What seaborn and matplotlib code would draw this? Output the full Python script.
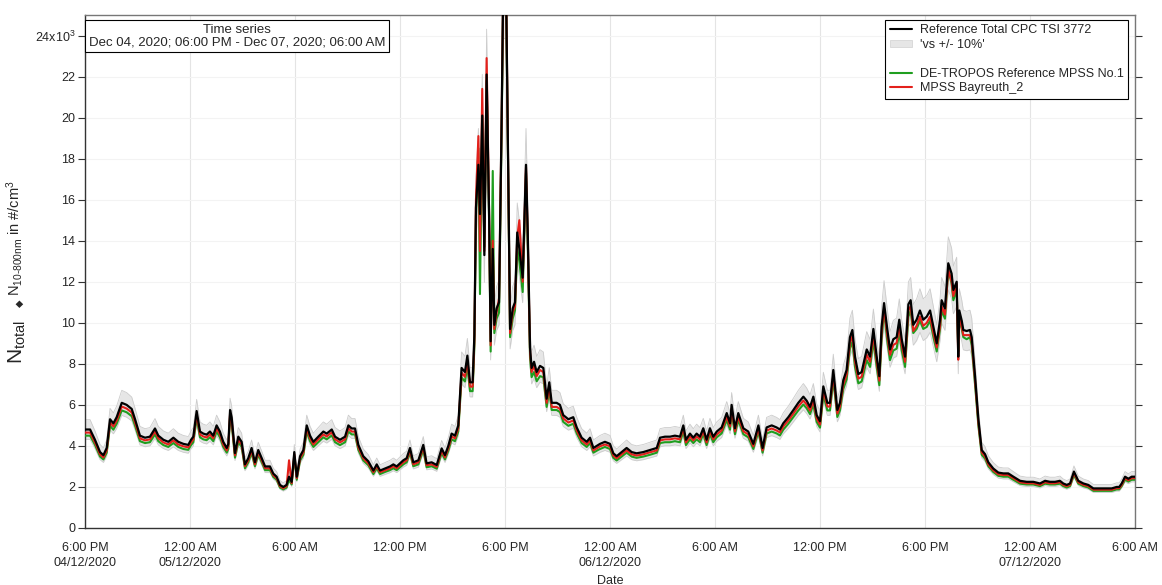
import numpy as np
import pandas as pd
import matplotlib
matplotlib.use("Agg")
import matplotlib.pyplot as plt
from matplotlib.lines import Line2D
from matplotlib.patches import Patch
import seaborn as sns

# ── data: hours after 04/12/2020 18:00, concentrations in 10^3 #/cm3 ──
start = pd.Timestamp("2020-12-04 18:00")
hours = [
    0.00, 0.29, 0.57, 0.86, 1.05, 1.24, 1.43, 1.62, 1.81, 2.10, 2.38, 2.67, 2.86, 3.14, 3.43, 3.71,
    4.00, 4.19, 4.48, 4.76, 5.05, 5.33, 5.62, 5.90, 6.06, 6.19, 6.38, 6.57, 6.76, 6.95, 7.14, 7.33,
    7.52, 7.71, 7.90, 8.10, 8.19, 8.29, 8.38, 8.57, 8.76, 8.95, 9.14, 9.33, 9.52, 9.71, 9.90, 10.10,
    10.29, 10.57, 10.76, 10.95, 11.14, 11.33, 11.52, 11.66, 11.81, 11.96, 12.10, 12.29, 12.48, 12.67,
    12.86, 13.05, 13.33, 13.62, 13.81, 14.10, 14.29, 14.57, 14.86, 15.05, 15.24, 15.43, 15.62, 15.90,
    16.19, 16.48, 16.67, 16.86, 17.14, 17.43, 17.62, 17.81, 18.00, 18.19, 18.38, 18.57, 18.76, 19.05,
    19.33, 19.52, 19.81,
    20.10, 20.38, 20.57, 20.76, 20.95, 21.14, 21.33, 21.52, 21.71, 21.85, 22.00, 22.15, 22.25, 22.34,
    22.48, 22.57, 22.70, 22.82, 22.95, 23.09, 23.18, 23.30, 23.39, 23.52, 23.66, 23.81, 23.90, 24.06,
    24.19, 24.29, 24.44, 24.57, 24.70, 24.82, 25.01, 25.20, 25.30, 25.43, 25.52, 25.66, 25.81, 26.00,
    26.19, 26.38, 26.53, 26.67, 26.95, 27.14, 27.33, 27.62, 27.90, 28.10, 28.38, 28.67, 28.86, 29.05,
    29.33,
    29.43, 29.71, 30.00, 30.19, 30.38, 30.67, 30.95, 31.24, 31.52, 31.90, 32.29, 32.67, 32.86, 33.14,
    33.43, 33.71, 34.00, 34.19, 34.34, 34.57, 34.76, 34.95, 35.14, 35.33, 35.52, 35.71, 35.90, 36.10,
    36.38, 36.67, 36.86, 36.95, 37.14, 37.33, 37.62, 37.90, 38.19, 38.48, 38.72, 38.95, 39.24, 39.52,
    39.71, 39.90, 40.19, 40.48, 40.76, 41.05, 41.24, 41.43, 41.62, 41.81, 42.00, 42.19, 42.42, 42.57,
    42.76, 42.99, 43.14, 43.33, 43.52, 43.71, 43.85, 44.00, 44.19, 44.38, 44.67, 44.86, 45.05, 45.24,
    45.39, 45.52, 45.66, 45.85, 46.00, 46.19, 46.38, 46.53, 46.67, 46.86, 47.05, 47.18, 47.33, 47.52,
    47.71, 47.90, 48.10, 48.29, 48.48, 48.67, 48.86,
    48.95, 49.14, 49.33, 49.52, 49.62, 49.81, 49.90, 49.96, 50.10, 50.19, 50.38, 50.57, 50.67, 50.86,
    51.05, 51.24, 51.43, 51.62, 51.90, 52.19, 52.48, 52.76, 53.05, 53.43, 53.81, 54.19, 54.57, 54.86,
    55.14, 55.43, 55.71, 55.90, 56.10, 56.29, 56.51, 56.76, 57.05, 57.33, 57.62, 58.00, 58.38, 58.67,
    58.95, 59.10, 59.24, 59.43, 59.62, 59.81, 60.00,
]
ref_cpc = [
    4.8, 4.8, 4.3, 3.7, 3.55, 3.9, 5.3, 5.1, 5.4, 6.1, 6.0, 5.8, 5.3, 4.5, 4.4, 4.45,
    4.85, 4.5, 4.3, 4.2, 4.4, 4.2, 4.1, 4.05, 4.3, 4.45, 5.7, 4.7, 4.6, 4.55, 4.7, 4.5,
    5.0, 4.7, 4.2, 3.9, 4.1, 5.75, 5.4, 3.65, 4.45, 4.2, 3.1, 3.4, 3.9, 3.2, 3.8, 3.4,
    3.0, 3.0, 2.65, 2.5, 2.1, 2.0, 2.1, 2.5, 2.25, 3.7, 2.5, 3.5, 3.8, 5.0,
    4.5, 4.2, 4.45, 4.7, 4.6, 4.8, 4.45, 4.3, 4.45, 5.0, 4.85, 4.85, 4.05, 3.5,
    3.25, 2.8, 3.1, 2.8, 2.9, 3.0, 3.1, 3.0, 3.15, 3.3, 3.4, 3.9, 3.2, 3.3,
    4.05, 3.15, 3.2,
    3.07, 3.88, 3.55, 4.0, 4.6, 4.5, 5.0, 7.8, 7.6, 8.4, 7.1, 7.1, 9.4, 15.6,
    17.7, 15.3, 20.1, 13.3, 22.1, 15.3, 9.1, 13.6, 9.9, 10.7, 11.0, 20.1, 26.5, 26.5,
    16.9, 9.7, 10.7, 11.0, 14.4, 13.6, 12.2, 17.7, 14.4, 8.8, 7.8, 8.1, 7.6, 7.9,
    7.8, 6.3, 7.1, 6.1, 6.1, 6.0, 5.5, 5.3, 5.4, 4.9, 4.4, 4.2, 4.4, 3.9,
    4.05,
    4.1, 4.2, 4.1, 3.64, 3.5, 3.7, 3.9, 3.7, 3.64, 3.7, 3.8, 3.9, 4.4, 4.45,
    4.45, 4.5, 4.45, 5.0, 4.3, 4.6, 4.4, 4.6, 4.45, 4.86, 4.3, 4.86, 4.45, 4.7,
    4.9, 5.6, 5.1, 6.0, 4.86, 5.6, 4.86, 4.7, 4.1, 5.0, 3.9, 4.9, 5.0, 4.9,
    4.8, 5.1, 5.4, 5.75, 6.1, 6.4, 6.2, 5.9, 6.4, 5.5, 5.2, 6.9, 6.1, 6.1,
    7.7, 5.75, 6.1, 7.2, 7.7, 9.3, 9.65, 8.35, 7.5, 7.6, 8.7, 8.35, 9.7, 8.35,
    7.4, 9.8, 10.96, 9.65, 8.7, 9.2, 9.3, 10.15, 9.2, 8.35, 10.9, 11.1, 9.9, 10.15,
    10.6, 10.15, 10.3, 10.6, 9.8, 9.0, 10.15,
    11.1, 10.7, 12.9, 12.4, 11.6, 12.0, 8.35, 10.6, 10.1, 9.65, 9.6, 9.65, 9.3, 7.4,
    5.3, 3.8, 3.6, 3.2, 2.9, 2.7, 2.66, 2.66, 2.5, 2.3, 2.25, 2.25, 2.17, 2.3,
    2.25, 2.25, 2.3, 2.17, 2.1, 2.17, 2.75, 2.3, 2.17, 2.1, 1.93, 1.93, 1.93, 1.93,
    2.0, 2.0, 2.17, 2.5, 2.4, 2.5, 2.5,
]
tropos_mpss = [
    4.5, 4.5, 4.05, 3.48, 3.34, 3.67, 4.98, 4.79, 5.08, 5.73, 5.64, 5.45, 4.98, 4.23, 4.14, 4.18,
    4.56, 4.23, 4.04, 3.95, 4.14, 3.95, 3.85, 3.81, 4.04, 4.18, 5.36, 4.42, 4.32, 4.28, 4.42, 4.23,
    4.7, 4.42, 3.95, 3.67, 3.85, 5.41, 5.08, 3.43, 4.18, 3.95, 2.91, 3.2, 3.67, 3.01, 3.57, 3.2,
    2.82, 2.82, 2.49, 2.35, 1.97, 1.88, 1.97, 2.35, 2.12, 3.48, 2.35, 3.29, 3.57, 4.7,
    4.23, 3.95, 4.18, 4.42, 4.32, 4.51, 4.18, 4.04, 4.18, 4.7, 4.56, 4.56, 3.81, 3.29,
    3.06, 2.63, 2.91, 2.63, 2.73, 2.82, 2.91, 2.82, 2.96, 3.1, 3.2, 3.67, 3.01, 3.1,
    3.81, 2.96, 3.01,
    2.89, 3.65, 3.34, 3.76, 4.32, 4.23, 4.7, 7.33, 7.14, 7.9, 6.67, 6.67, 8.84, 15.2,
    18.5, 11.4, 20.1, 13.7, 21.8, 15.0, 8.6, 17.4, 9.5, 10.2, 10.5, 19.5, 26.0, 26.0,
    16.5, 9.3, 10.2, 10.6, 13.6, 13.0, 11.5, 17.3, 13.8, 8.3, 7.35, 7.6, 7.15, 7.4,
    7.35, 5.9, 6.7, 5.75, 5.75, 5.65, 5.17, 4.98, 5.08, 4.61, 4.14, 3.95, 4.14, 3.67,
    3.81,
    3.85, 3.95, 3.85, 3.42, 3.29, 3.48, 3.67, 3.48, 3.42, 3.48, 3.57, 3.67, 4.14, 4.18,
    4.18, 4.23, 4.18, 4.7, 4.04, 4.32, 4.14, 4.32, 4.18, 4.57, 4.04, 4.57, 4.18, 4.42,
    4.61, 5.26, 4.79, 5.64, 4.57, 5.26, 4.57, 4.42, 3.85, 4.7, 3.67, 4.61, 4.7, 4.61,
    4.51, 4.79, 5.08, 5.41, 5.73, 6.02, 5.83, 5.55, 6.02, 5.17, 4.89, 6.49, 5.73, 5.73,
    7.24, 5.41, 5.73, 6.77, 7.24, 8.74, 9.07, 7.85, 7.05, 7.14, 8.18, 7.85, 9.12, 7.85,
    6.96, 9.21, 10.6, 9.07, 8.18, 8.65, 8.74, 9.54, 8.65, 7.85, 10.3, 10.6, 9.5, 9.7,
    10.1, 9.7, 9.8, 10.1, 9.3, 8.6, 9.7,
    10.6, 10.2, 12.6, 11.9, 11.1, 11.6, 8.6, 10.2, 9.7, 9.3, 9.2, 9.3, 8.9, 7.0,
    4.98, 3.57, 3.38, 3.01, 2.73, 2.54, 2.5, 2.5, 2.35, 2.16, 2.12, 2.12, 2.04, 2.16,
    2.12, 2.12, 2.16, 2.04, 1.97, 2.04, 2.59, 2.16, 2.04, 1.97, 1.81, 1.81, 1.81, 1.81,
    1.88, 1.88, 2.04, 2.35, 2.26, 2.35, 2.35,
]
bayreuth_mpss = [
    4.65, 4.65, 4.17, 3.59, 3.44, 3.78, 5.14, 4.95, 5.24, 5.92, 5.82, 5.63, 5.14, 4.37, 4.27, 4.32,
    4.7, 4.37, 4.17, 4.07, 4.27, 4.07, 3.98, 3.93, 4.17, 4.32, 5.53, 4.56, 4.46, 4.41, 4.56, 4.37,
    4.85, 4.56, 4.07, 3.78, 3.98, 5.58, 5.24, 3.54, 4.32, 4.07, 3.01, 3.3, 3.78, 3.1, 3.69, 3.3,
    2.91, 2.91, 2.57, 2.43, 2.04, 1.94, 2.04, 3.3, 2.18, 3.59, 2.43, 3.4, 3.69, 4.85,
    4.37, 4.07, 4.32, 4.56, 4.46, 4.66, 4.32, 4.17, 4.32, 4.85, 4.7, 4.7, 3.93, 3.4,
    3.15, 2.72, 3.01, 2.72, 2.81, 2.91, 3.01, 2.91, 3.06, 3.2, 3.3, 3.78, 3.1, 3.2,
    3.93, 3.06, 3.1,
    2.98, 3.76, 3.44, 3.88, 4.46, 4.37, 4.85, 7.57, 7.37, 8.15, 6.89, 6.89, 9.12, 16.0,
    19.1, 13.5, 21.4, 13.5, 22.9, 15.5, 8.9, 14.0, 9.7, 10.5, 11.2, 20.0, 26.5, 26.5,
    16.8, 9.5, 10.5, 10.8, 14.2, 15.0, 12.0, 17.6, 14.2, 8.6, 7.6, 7.9, 7.4, 7.7,
    7.6, 6.1, 6.9, 5.9, 5.9, 5.8, 5.34, 5.14, 5.24, 4.75, 4.27, 4.07, 4.27, 3.78,
    3.93,
    3.98, 4.07, 3.98, 3.53, 3.4, 3.59, 3.78, 3.59, 3.53, 3.59, 3.69, 3.78, 4.27, 4.32,
    4.32, 4.37, 4.32, 4.85, 4.17, 4.46, 4.27, 4.46, 4.32, 4.71, 4.17, 4.71, 4.32, 4.56,
    4.75, 5.43, 4.95, 5.82, 4.71, 5.43, 4.71, 4.56, 3.98, 4.85, 3.78, 4.75, 4.85, 4.75,
    4.66, 4.95, 5.24, 5.58, 5.92, 6.21, 6.01, 5.72, 6.21, 5.34, 5.04, 6.69, 5.92, 5.92,
    7.47, 5.58, 5.92, 6.98, 7.47, 9.02, 9.36, 8.1, 7.28, 7.37, 8.44, 8.1, 9.41, 8.1,
    7.18, 9.51, 10.7, 9.36, 8.44, 8.92, 9.02, 9.85, 8.92, 8.1, 10.6, 10.8, 9.6, 9.85,
    10.3, 9.85, 10.0, 10.3, 9.5, 8.8, 9.85,
    10.8, 10.4, 12.6, 12.0, 11.3, 11.9, 8.2, 10.3, 9.8, 9.4, 9.4, 9.4, 9.1, 7.2,
    5.14, 3.69, 3.49, 3.1, 2.81, 2.62, 2.58, 2.58, 2.43, 2.23, 2.18, 2.18, 2.1, 2.23,
    2.18, 2.18, 2.23, 2.1, 2.04, 2.1, 2.67, 2.23, 2.1, 2.04, 1.87, 1.87, 1.87, 1.87,
    1.94, 1.94, 2.1, 2.43, 2.33, 2.43, 2.43,
]
band_pct = 10
y_ticks = list(range(0, 25, 2))
y_ticklabels = [str(v) for v in y_ticks[:-1]] + ["24x10$^{3}$"]

sns.set_style("white")
plt.rcParams["font.family"] = ["Liberation Sans", "DejaVu Sans"]
plt.rcParams["mathtext.fontset"] = "custom"
plt.rcParams["mathtext.rm"] = "Liberation Sans"
plt.rcParams["mathtext.it"] = "Liberation Sans:italic"
plt.rcParams["mathtext.fallback"] = "stixsans"

df = pd.DataFrame({
    "time": start + pd.to_timedelta(hours, unit="h"),
    "ref": ref_cpc,
    "tropos": tropos_mpss,
    "bayreuth": bayreuth_mpss,
})
df["lo"] = df["ref"] * (1 - band_pct / 100)
df["hi"] = df["ref"] * (1 + band_pct / 100)

W, H = 1162, 585
fig = plt.figure(figsize=(W / 100, H / 100), dpi=100)
ax = fig.add_axes([85 / W, 1 - 528 / H, 1050 / W, 513 / H])

# ±10 % band around the reference CPC
ax.fill_between(df["time"], df["lo"], df["hi"], color="#e6e6e6", lw=0, zorder=1)
sns.lineplot(data=df, x="time", y="lo", color="#cccccc", lw=0.6, ax=ax, zorder=2)
sns.lineplot(data=df, x="time", y="hi", color="#cccccc", lw=0.6, ax=ax, zorder=2)

c_green, c_red = "#1f9e1f", "#e3201b"
sns.lineplot(data=df, x="time", y="tropos", color=c_green, lw=1.5, ax=ax, zorder=3)
sns.lineplot(data=df, x="time", y="bayreuth", color=c_red, lw=1.5, ax=ax, zorder=4)
sns.lineplot(data=df, x="time", y="ref", color="black", lw=1.6, ax=ax, zorder=5)

# axes
x_ticks = pd.date_range(start, periods=11, freq="6h")
x_labels = []
for i, t in enumerate(x_ticks):
    s = t.strftime("%I:%M %p").lstrip("0")
    if i == 0 or t.hour == 0:
        s += "\n" + t.strftime("%d/%m/%Y")
    x_labels.append(s)
ax.set_xticks(x_ticks)
ax.set_xticklabels(x_labels, fontsize=9, linespacing=1.35)
ax.set_xlim(x_ticks[0], x_ticks[-1])
ax.set_yticks(y_ticks)
ax.set_yticklabels(y_ticklabels, fontsize=9)
ax.set_ylim(0, 25)
ax.set_xlabel("Date", fontsize=9, labelpad=4)
ax.set_ylabel("")

ax.tick_params(axis="x", direction="inout", length=8, width=0.8, color="#333333", pad=6)
ax.tick_params(axis="y", direction="out", length=5, width=0.8, color="#333333", pad=2,
               right=True, left=True, labelright=False)
ax.grid(axis="x", color="#e4e4e4", lw=0.8)
ax.grid(axis="y", color="#f3f3f3", lw=0.8)
for side in ["left", "bottom"]:
    ax.spines[side].set_color("#333333")
    ax.spines[side].set_linewidth(1.0)
for side in ["top", "right"]:
    ax.spines[side].set_color("#777777")
    ax.spines[side].set_linewidth(1.0)

# y label built from pieces (different sizes like the original)
fig.text(17 / W, 1 - 342 / H, r"N$_{\mathrm{total}}$", rotation=90, fontsize=15,
         ha="center", va="center")
fig.text(20 / W, 1 - 303 / H, "\u25C6", rotation=90, fontsize=7,
         family=["DejaVu Sans"], ha="center", va="center")
fig.text(15 / W, 1 - 238 / H, "N$_{\\mathrm{10\u2010800nm}}$ in #/cm$^{3}$", rotation=90,
         fontsize=10.5, ha="center", va="center")

# info box
fig.text(237 / W, 1 - 36 / H,
         "Time series\nDec 04, 2020; 06:00 PM - Dec 07, 2020; 06:00 AM",
         ha="center", va="center", fontsize=9.5, linespacing=1.1,
         bbox=dict(boxstyle="square,pad=0.25", fc="white", ec="black", lw=0.8))

handles = [
    Line2D([0], [0], color="black", lw=1.5, label="Reference Total CPC TSI 3772"),
    Patch(facecolor="#e6e6e6", edgecolor="#d0d0d0", lw=0.5, label="'vs +/- 10%'"),
    Line2D([0], [0], color="none", label=" "),
    Line2D([0], [0], color=c_green, lw=1.5, label="DE-TROPOS Reference MPSS No.1"),
    Line2D([0], [0], color=c_red, lw=1.5, label="MPSS Bayreuth_2"),
]
leg = fig.legend(handles=handles, loc="upper right", bbox_to_anchor=(1128 / W, 1 - 20 / H),
                 fontsize=9, frameon=True, fancybox=False, framealpha=1, edgecolor="black",
                 borderaxespad=0, borderpad=0.35, labelspacing=0.2, handlelength=1.8,
                 handletextpad=0.6, handleheight=0.6)
leg.get_frame().set_linewidth(0.8)

fig.savefig("out.png", dpi=100)
